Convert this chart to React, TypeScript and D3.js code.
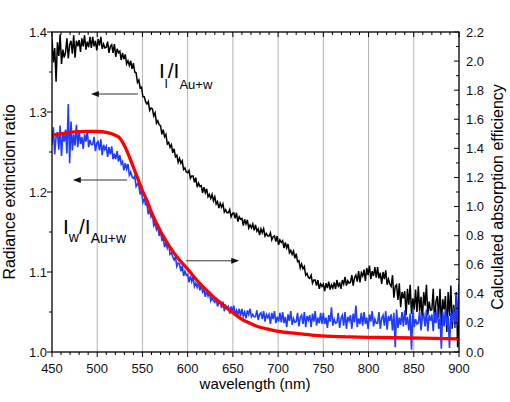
import React from "react";
import * as d3 from "d3";

// wavelength grid of the measured spectra: starts at 450 nm, 1.5 nm apart
const START_NM = 450;
const STEP_NM = 1.5;

// I_l / I_Au+w (left axis), 10 samples per row (15 nm)
const ratioL: number[] = [
  1.392, 1.362, 1.380, 1.338, 1.387, 1.370, 1.397, 1.360, 1.378, 1.368,
  1.375, 1.392, 1.367, 1.384, 1.389, 1.373, 1.396, 1.368, 1.389, 1.382,
  1.390, 1.375, 1.392, 1.382, 1.396, 1.378, 1.388, 1.381, 1.394, 1.380,
  1.394, 1.382, 1.389, 1.377, 1.391, 1.383, 1.394, 1.379, 1.385, 1.380,
  1.381, 1.388, 1.374, 1.382, 1.384, 1.374, 1.385, 1.369, 1.379, 1.374,
  1.376, 1.365, 1.374, 1.366, 1.372, 1.360, 1.364, 1.358, 1.364, 1.354,
  1.361, 1.350, 1.349, 1.337, 1.340, 1.330, 1.331, 1.319, 1.319, 1.313,
  1.310, 1.313, 1.302, 1.305, 1.304, 1.295, 1.299, 1.286, 1.289, 1.284,
  1.283, 1.272, 1.278, 1.269, 1.272, 1.260, 1.262, 1.256, 1.259, 1.249,
  1.254, 1.244, 1.246, 1.237, 1.242, 1.236, 1.239, 1.228, 1.230, 1.225,
  1.224, 1.227, 1.217, 1.220, 1.220, 1.212, 1.218, 1.206, 1.211, 1.207,
  1.208, 1.199, 1.206, 1.199, 1.204, 1.194, 1.197, 1.192, 1.197, 1.189,
  1.194, 1.185, 1.188, 1.180, 1.186, 1.181, 1.185, 1.175, 1.178, 1.174,
  1.174, 1.178, 1.169, 1.173, 1.174, 1.167, 1.174, 1.163, 1.169, 1.166,
  1.167, 1.158, 1.166, 1.160, 1.165, 1.155, 1.159, 1.155, 1.160, 1.152,
  1.159, 1.151, 1.154, 1.146, 1.154, 1.149, 1.154, 1.145, 1.148, 1.145,
  1.145, 1.149, 1.140, 1.144, 1.145, 1.138, 1.145, 1.134, 1.140, 1.137,
  1.139, 1.130, 1.137, 1.130, 1.135, 1.124, 1.127, 1.122, 1.126, 1.117,
  1.123, 1.113, 1.114, 1.105, 1.110, 1.104, 1.107, 1.096, 1.098, 1.093,
  1.092, 1.096, 1.086, 1.090, 1.090, 1.083, 1.090, 1.079, 1.085, 1.082,
  1.085, 1.076, 1.086, 1.080, 1.088, 1.078, 1.084, 1.080, 1.087, 1.079,
  1.090, 1.081, 1.087, 1.079, 1.090, 1.085, 1.094, 1.083, 1.089, 1.086,
  1.087, 1.096, 1.083, 1.093, 1.096, 1.088, 1.101, 1.087, 1.099, 1.095,
  1.103, 1.089, 1.105, 1.096, 1.108, 1.091, 1.101, 1.095, 1.106, 1.093,
  1.106, 1.092, 1.099, 1.085, 1.100, 1.091, 1.102, 1.084, 1.091, 1.085,
  1.082, 1.096, 1.068, 1.082, 1.084, 1.065, 1.086, 1.056, 1.075, 1.067,
  1.076, 1.046, 1.079, 1.059, 1.084, 1.048, 1.067, 1.053, 1.078, 1.050,
  1.082, 1.051, 1.069, 1.040, 1.075, 1.058, 1.084, 1.046, 1.063, 1.052,
  1.053, 1.079, 1.037, 1.063, 1.070, 1.043, 1.079, 1.033, 1.066, 1.053,
  1.070, 1.025, 1.075, 1.045, 1.083, 1.029, 1.059, 1.038, 1.075, 1.006,
  1.055,
];

// I_w / I_Au+w (left axis), 10 samples per row (15 nm)
const ratioW: number[] = [
  1.259, 1.281, 1.247, 1.269, 1.275, 1.253, 1.283, 1.245, 1.273, 1.263,
  1.278, 1.248, 1.310, 1.236, 1.288, 1.252, 1.272, 1.258, 1.284, 1.256,
  1.277, 1.260, 1.269, 1.254, 1.272, 1.263, 1.277, 1.256, 1.265, 1.259,
  1.259, 1.269, 1.251, 1.261, 1.263, 1.252, 1.266, 1.246, 1.259, 1.253,
  1.257, 1.244, 1.256, 1.247, 1.257, 1.241, 1.248, 1.241, 1.251, 1.238,
  1.246, 1.235, 1.238, 1.227, 1.236, 1.229, 1.235, 1.221, 1.225, 1.219,
  1.217, 1.220, 1.207, 1.210, 1.208, 1.197, 1.202, 1.187, 1.191, 1.184,
  1.185, 1.172, 1.178, 1.169, 1.173, 1.158, 1.161, 1.153, 1.157, 1.145,
  1.151, 1.140, 1.142, 1.131, 1.138, 1.130, 1.135, 1.122, 1.124, 1.119,
  1.115, 1.119, 1.107, 1.111, 1.110, 1.101, 1.108, 1.095, 1.101, 1.096,
  1.097, 1.087, 1.095, 1.088, 1.094, 1.082, 1.086, 1.081, 1.087, 1.077,
  1.084, 1.075, 1.078, 1.069, 1.077, 1.070, 1.076, 1.064, 1.068, 1.064,
  1.062, 1.068, 1.057, 1.062, 1.063, 1.055, 1.063, 1.051, 1.058, 1.055,
  1.057, 1.048, 1.057, 1.051, 1.058, 1.046, 1.052, 1.047, 1.054, 1.045,
  1.054, 1.045, 1.050, 1.042, 1.052, 1.047, 1.054, 1.044, 1.047, 1.044,
  1.044, 1.052, 1.040, 1.047, 1.049, 1.041, 1.051, 1.038, 1.047, 1.043,
  1.047, 1.035, 1.049, 1.041, 1.051, 1.036, 1.044, 1.038, 1.049, 1.037,
  1.050, 1.036, 1.044, 1.031, 1.047, 1.039, 1.051, 1.034, 1.042, 1.037,
  1.038, 1.049, 1.032, 1.043, 1.046, 1.035, 1.050, 1.031, 1.045, 1.040,
  1.046, 1.031, 1.048, 1.038, 1.051, 1.033, 1.043, 1.036, 1.049, 1.035,
  1.049, 1.035, 1.043, 1.030, 1.046, 1.038, 1.056, 1.033, 1.041, 1.036,
  1.037, 1.049, 1.030, 1.042, 1.046, 1.033, 1.050, 1.029, 1.044, 1.039,
  1.046, 1.029, 1.048, 1.037, 1.058, 1.031, 1.042, 1.035, 1.049, 1.033,
  1.050, 1.035, 1.043, 1.029, 1.047, 1.038, 1.051, 1.032, 1.041, 1.036,
  1.036, 1.050, 1.029, 1.042, 1.046, 1.033, 1.051, 1.028, 1.045, 1.039,
  1.047, 1.027, 1.049, 1.006, 1.053, 1.030, 1.043, 1.034, 1.050, 1.032,
  1.052, 1.034, 1.044, 1.027, 1.048, 1.003, 1.053, 1.031, 1.041, 1.035,
  1.036, 1.051, 1.027, 1.043, 1.047, 1.032, 1.053, 1.026, 1.046, 1.039,
  1.047, 1.026, 1.050, 1.036, 1.054, 1.029, 1.043, 1.004, 1.051, 1.032,
  1.054, 1.033, 1.045, 1.005, 1.049, 1.037, 1.055, 1.030, 1.072, 1.034,
  1.085,
];

// calculated absorption efficiency (right axis)
const calcNm: number[] = [
  450, 460, 470, 480, 490, 500, 510, 520, 525, 530, 535, 540, 545, 550, 555,
  560, 570, 580, 590, 600, 610, 620, 630, 640, 650, 660, 670, 680, 690, 700,
  720, 740, 760, 780, 800, 830, 860, 900,
];
const calcEff: number[] = [
  1.49, 1.50, 1.51, 1.515, 1.517, 1.516, 1.51, 1.49, 1.47, 1.42, 1.35, 1.27,
  1.19, 1.11, 1.04, 0.96, 0.83, 0.725, 0.64, 0.57, 0.495, 0.43, 0.37, 0.32,
  0.27, 0.225, 0.195, 0.17, 0.155, 0.142, 0.128, 0.115, 0.108, 0.104, 0.101,
  0.098, 0.095, 0.09,
];

const xTicks = [450, 500, 550, 600, 650, 700, 750, 800, 850, 900];
const gridNm = [500, 550, 600, 650, 700, 750, 800, 850];
const yLeftTicks = [1.0, 1.1, 1.2, 1.3, 1.4];
const yRightTicks = [0.0, 0.2, 0.4, 0.6, 0.8, 1.0, 1.2, 1.4, 1.6, 1.8, 2.0, 2.2];

const W = 510;
const H = 402;
const L = 52;
const R = 459;
const T = 32;
const B = 352;
const FONT = "'Liberation Sans', Arial, Helvetica, sans-serif";

export default function App() {
  const x = d3.scaleLinear().domain([450, 900]).range([L, R]);
  const yL = d3.scaleLinear().domain([1.0, 1.4]).range([B, T]);
  const yR = d3.scaleLinear().domain([0, 2.2]).range([B, T]);

  const spec = (vals: number[]) =>
    d3
      .line<number>()
      .x((_, i) => x(START_NM + i * STEP_NM))
      .y((v) => yL(v))(vals) || "";

  const calcLine =
    d3
      .line<number>()
      .x((_, i) => x(calcNm[i]))
      .y((v) => yR(v))
      .curve(d3.curveMonotoneX)(calcEff) || "";

  const xMinor = d3.range(450, 901, 10);
  const yLMinor = d3.range(1.0, 1.4001, 0.05);
  const yRMinor = d3.range(0, 2.2001, 0.1);

  const arrow = (x1: number, x2: number, y: number, key: string) => {
    const dir = x2 > x1 ? 1 : -1;
    const hx = x(x2);
    const py = yL(y);
    return (
      <g key={key}>
        <line x1={x(x1)} x2={hx - dir * 6} y1={py} y2={py} stroke="#333" strokeWidth={1} />
        <path
          d={`M${hx},${py} L${hx - dir * 8},${py - 3} L${hx - dir * 8},${py + 3} Z`}
          fill="#111"
        />
      </g>
    );
  };

  return (
    <svg width={W} height={H} style={{ display: "block", position: "absolute", left: 0, top: 0 }}>
      <rect x={0} y={0} width={W} height={H} fill="#fff" />
      <defs>
        <clipPath id="plot">
          <rect x={L} y={T} width={R - L} height={B - T} />
        </clipPath>
      </defs>
      {gridNm.map((v) => (
        <line key={"g" + v} x1={x(v)} x2={x(v)} y1={T} y2={B} stroke="#b4b4b4" strokeWidth={1} />
      ))}
      <g clipPath="url(#plot)">
        <path d={spec(ratioL)} fill="none" stroke="#000" strokeWidth={1.5} />
        <path d={spec(ratioW)} fill="none" stroke="#1f3cff" strokeWidth={1.6} />
        <path d={calcLine} fill="none" stroke="#ff0000" strokeWidth={3.3} />
      </g>

      {/* arrows */}
      {arrow(545, 493, 1.3225, "a1")}
      {arrow(533, 473, 1.215, "a2")}
      {arrow(598, 657, 1.114, "a3")}

      {/* frame */}
      <rect x={L} y={T} width={R - L} height={B - T} fill="none" stroke="#000" strokeWidth={1.3} />

      {/* bottom / top axis */}
      {xMinor.map((v) => (
        <line key={"bm" + v} x1={x(v)} x2={x(v)} y1={B} y2={B + (v % 50 === 0 ? 5 : 3)} stroke="#000" strokeWidth={1} />
      ))}
      {xMinor.map((v) => (
        <line key={"tm" + v} x1={x(v)} x2={x(v)} y1={T} y2={T + (v % 50 === 0 ? 5 : 3)} stroke="#000" strokeWidth={1} />
      ))}
      {xTicks.map((v) => (
        <text key={"xl" + v} x={x(v)} y={373} textAnchor="middle" fontFamily={FONT} fontSize={13} fill="#111">
          {v}
        </text>
      ))}

      {/* left axis */}
      {yLMinor.map((v, i) => (
        <line key={"lm" + i} x1={L} x2={L - (i % 2 === 0 ? 5 : 3)} y1={yL(v)} y2={yL(v)} stroke="#000" strokeWidth={1} />
      ))}
      {yLeftTicks.map((v) => (
        <text key={"yl" + v} x={47} y={yL(v) + 4.5} textAnchor="end" fontFamily={FONT} fontSize={13} fill="#111">
          {v.toFixed(1)}
        </text>
      ))}

      {/* right axis */}
      {yRMinor.map((v, i) => (
        <line key={"rm" + i} x1={R} x2={R - (i % 2 === 0 ? 5 : 3)} y1={yR(v)} y2={yR(v)} stroke="#000" strokeWidth={1} />
      ))}
      {yRightTicks.map((v) => (
        <text key={"yr" + v} x={466} y={yR(v) + 4.5} textAnchor="start" fontFamily={FONT} fontSize={13} fill="#111">
          {v.toFixed(1)}
        </text>
      ))}

      {/* axis titles */}
      <text x={255} y={389} textAnchor="middle" fontFamily={FONT} fontSize={15} fill="#000">
        wavelength (nm)
      </text>
      <text
        transform={`translate(15,192) rotate(-90)`}
        textAnchor="middle"
        fontFamily={FONT}
        fontSize={16}
        fill="#000"
      >
        Radiance extinction ratio
      </text>
      <text
        transform={`translate(503,197) rotate(-90)`}
        textAnchor="middle"
        fontFamily={FONT}
        fontSize={16}
        fill="#000"
      >
        Calculated absorption efficiency
      </text>

      {/* curve labels */}
      <text x={159} y={78} fontFamily={FONT} fontSize={21} fill="#000">
        I
        <tspan fontSize={13} dy={10}>l</tspan>
        <tspan dy={-10}>/I</tspan>
        <tspan fontSize={13} dy={11}>Au+w</tspan>
      </text>
      <text x={63} y={234} fontFamily={FONT} fontSize={21} fill="#000">
        I
        <tspan fontSize={14} dy={8}>w</tspan>
        <tspan dy={-8}>/I</tspan>
        <tspan fontSize={14} dy={9}>Au+w</tspan>
      </text>
    </svg>
  );
}
